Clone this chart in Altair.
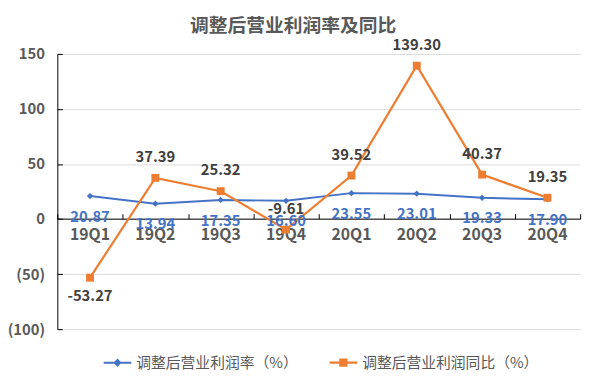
import altair as alt
import pandas as pd

quarters = ["19Q1", "19Q2", "19Q3", "19Q4", "20Q1", "20Q2", "20Q3", "20Q4"]
margin = [20.87, 13.94, 17.35, 16.60, 23.55, 23.01, 19.33, 17.90]
yoy = [-53.27, 37.39, 25.32, -9.61, 39.52, 139.30, 40.37, 19.35]
series_names = ["调整后营业利润率（%）", "调整后营业利润同比（%）"]
y_ticks = [-100, -50, 0, 50, 100, 150]

BLUE = "#4472C4"
ORANGE = "#ED7D31"
GREY = "#595959"
FONT = "Noto Sans CJK SC"

rows = []
for q, a, b in zip(quarters, margin, yoy):
    rows.append({"q": q, "s": series_names[0], "v": a, "lab": f"{a:.2f}"})
    rows.append({"q": q, "s": series_names[1], "v": b, "lab": f"{b:.2f}"})
df = pd.DataFrame(rows)

base = alt.Chart(df)
xscale = alt.Scale(type="band", paddingInner=0, paddingOuter=0)
yscale = alt.Scale(domain=[-100, 150], nice=False, zero=False)


def X(axis=None):
    return alt.X("q:N", sort=quarters, scale=xscale, bandPosition=0.5, axis=axis, title=None)


def Y(axis=None):
    return alt.Y("v:Q", scale=yscale, axis=axis, title=None)


blue = base.transform_filter(alt.datum.s == series_names[0])
orange = base.transform_filter(alt.datum.s == series_names[1])

axis_x_labels = alt.Axis(orient="bottom", offset=-112, domain=False, ticks=False, grid=False,
                         labelAngle=0, labelFontSize=16, labelFontWeight="bold", labelColor=GREY,
                         labelFont=FONT, labelPadding=8)
axis_x_ticks = alt.Axis(orient="top", offset=-167, domain=True, domainColor="#000000", domainWidth=1,
                        ticks=True, tickColor="#000000", tickSize=5, tickBand="extent",
                        labels=False, grid=False)
axis_y_labels = alt.Axis(orient="left", values=y_ticks, domain=True, domainColor="#000000", domainWidth=1,
                         ticks=False, grid=True, gridColor="#D9D9D9", gridWidth=1,
                         labelFontSize=15, labelFontWeight="bold", labelColor=GREY, labelFont=FONT,
                         labelPadding=13,
                         labelExpr="datum.value < 0 ? '(' + format(-datum.value, 'd') + ')' : format(datum.value, 'd')")
axis_y_ticks = alt.Axis(orient="right", offset=-530, values=y_ticks, domain=False, ticks=True,
                        tickColor="#000000", tickSize=5, labels=False, grid=False)

blue_line = blue.mark_line(color=BLUE, strokeWidth=2).encode(x=X(axis_x_labels), y=Y(axis_y_labels))
orange_line = orange.mark_line(color=ORANGE, strokeWidth=2.25).encode(x=X(axis_x_ticks), y=Y(axis_y_ticks))

blue_pts = blue.mark_point(shape="diamond", filled=True, color=BLUE, size=40, opacity=1).encode(x=X(), y=Y())
orange_pts = orange.mark_point(shape="square", filled=True, color=ORANGE, size=64, opacity=1).encode(x=X(), y=Y())

blue_lab = blue.mark_text(color=BLUE, fontSize=15, fontWeight="bold", font=FONT, dy=21,
                          baseline="middle").encode(x=X(), y=Y(), text="lab:N")
orange_lab_up = orange.transform_filter(alt.datum.v > -50).mark_text(
    color="#404040", fontSize=15, fontWeight="bold", font=FONT, dy=-21, baseline="middle").encode(
    x=X(), y=Y(), text="lab:N")
orange_lab_dn = orange.transform_filter(alt.datum.v <= -50).mark_text(
    color="#404040", fontSize=15, fontWeight="bold", font=FONT, dy=19, baseline="middle").encode(
    x=X(), y=Y(), text="lab:N")

path_blue = "M-1,-0.07H1V0.07H-1Z M0,-0.3L0.3,0L0,0.3L-0.3,0Z"
path_orange = "M-1,-0.085H1V0.085H-1Z M-0.3,-0.3H0.3V0.3H-0.3Z"

leg = dict(orient="none", legendX=47, legendY=299, direction="horizontal", columns=2, title=None,
           labelFontSize=15, labelColor=GREY, labelFont=FONT, labelLimit=0, symbolSize=784,
           symbolStrokeWidth=0, labelOffset=5, columnPadding=32, padding=0, symbolOpacity=1)

legend_layer = base.transform_filter("false").mark_point(filled=True, opacity=1).encode(
    x=X(), y=Y(),
    color=alt.Color("s:N", scale=alt.Scale(domain=series_names, range=[BLUE, ORANGE]), legend=alt.Legend(**leg)),
    shape=alt.Shape("s:N", scale=alt.Scale(domain=series_names, range=[path_blue, path_orange]),
                    legend=alt.Legend(**leg)),
)

chart = alt.layer(
    blue_line, orange_line, blue_pts, orange_pts, blue_lab, orange_lab_up, orange_lab_dn, legend_layer
).resolve_axis(x="independent", y="independent").properties(
    width=530, height=279,
    title=alt.Title("调整后营业利润率及同比", fontSize=19, fontWeight="bold", color=GREY, font=FONT,
                    anchor="middle", dx=-26, offset=2),
    autosize=alt.AutoSizeParams(type="none"),
    padding={"left": 50, "top": 44, "right": 11, "bottom": 50},
).configure_view(stroke=None)

chart.save("out.html", embed_options={"renderer": "svg", "actions": False})
